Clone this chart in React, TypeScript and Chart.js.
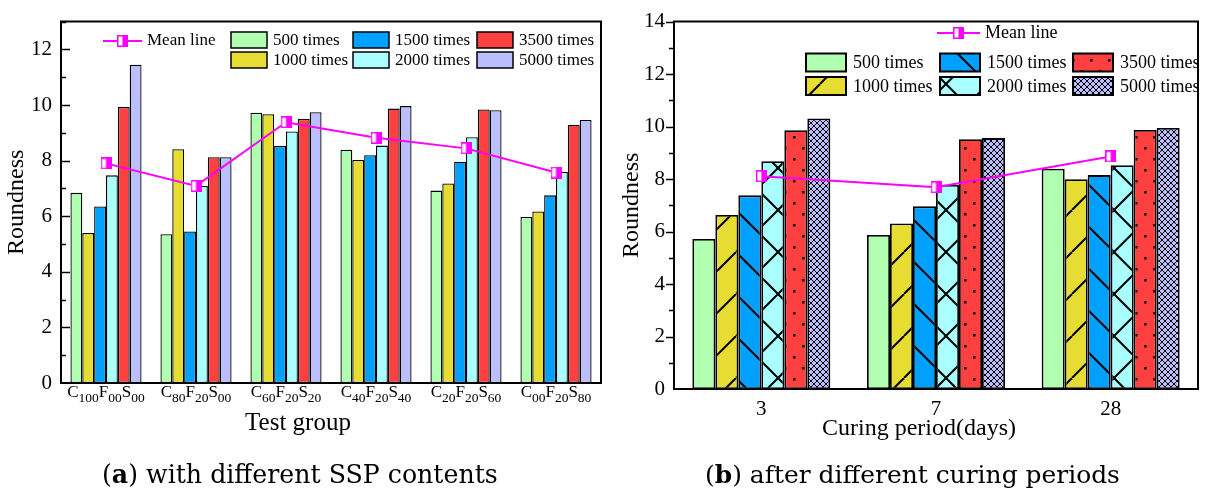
import React, { useEffect, useRef } from 'react';
import { Chart, registerables } from 'chart.js';

Chart.register(...registerables);

const FONT = '"Liberation Serif", "Times New Roman", serif';
const CAP_FONT = '"DejaVu Serif", serif';

// ---------- Panel (a): different SSP contents ----------
const groupLabelsA = ['C100F00S00', 'C80F20S00', 'C60F20S20', 'C40F20S40', 'C20F20S60', 'C00F20S80'];
const a500 = [6.84, 5.35, 9.72, 8.39, 6.92, 5.97];
const a1000 = [5.4, 8.41, 9.67, 8.02, 7.18, 6.17];
const a1500 = [6.35, 5.45, 8.53, 8.19, 7.96, 6.75];
const a2000 = [7.47, 7.09, 9.05, 8.54, 8.84, 7.59];
const a3500 = [9.93, 8.12, 9.5, 9.87, 9.84, 9.29];
const a5000 = [11.45, 8.12, 9.74, 9.96, 9.81, 9.46];
const aMean = [7.9, 7.09, 9.38, 8.82, 8.44, 7.57];

// ---------- Panel (b): different curing periods ----------
const periodLabelsB = ['3', '7', '28'];
const b500 = [5.72, 5.87, 8.39];
const b1000 = [6.63, 6.31, 7.99];
const b1500 = [7.38, 6.96, 8.15];
const b2000 = [8.68, 7.78, 8.53];
const b3500 = [9.86, 9.52, 9.87];
const b5000 = [10.31, 9.56, 9.95];
const bMean = [8.11, 7.69, 8.86];

const seriesLabels = ['500 times', '1000 times', '1500 times', '2000 times', '3500 times', '5000 times'];
const seriesColors = ['#B0FFB0', '#E6DC32', '#00A0FF', '#AAFFFF', '#FF4040', '#BBBFFF'];
const patternsB = ['none', 'fwd', 'back', 'cross', 'dots', 'fine'];
const meanLabel = 'Mean line';
const meanColor = '#FF00FF';

const xTitleA = 'Test group';
const xTitleB = 'Curing period(days)';
const yTitle = 'Roundness';
const captionA = ['(', 'a', ') with different SSP contents'];
const captionB = ['(', 'b', ') after different curing periods'];

function makeMarker(): HTMLCanvasElement {
  const c = document.createElement('canvas');
  c.width = 11;
  c.height = 12;
  const g = c.getContext('2d')!;
  g.fillStyle = '#FFFFFF';
  g.fillRect(0, 0, 11, 12);
  g.fillStyle = meanColor;
  g.fillRect(5.5, 0, 5.5, 12);
  g.strokeStyle = meanColor;
  g.lineWidth = 1.5;
  g.strokeRect(0.75, 0.75, 9.5, 10.5);
  return c;
}

function makeFill(kind: string, color: string): any {
  if (kind === 'none') return color;
  const c = document.createElement('canvas');
  let w = 42;
  let h = 42;
  if (kind === 'dots') { w = 18; h = 22; }
  if (kind === 'fine') { w = 6; h = 6; }
  c.width = w;
  c.height = h;
  const g = c.getContext('2d')!;
  g.fillStyle = color;
  g.fillRect(0, 0, w, h);
  g.strokeStyle = '#000';
  g.fillStyle = '#000';
  const diag = (dir: number, lw: number) => {
    g.lineWidth = lw;
    for (const o of [-w, 0, w]) {
      g.beginPath();
      if (dir > 0) { g.moveTo(o, h); g.lineTo(o + w, 0); } else { g.moveTo(o, 0); g.lineTo(o + w, h); }
      g.stroke();
    }
  };
  if (kind === 'fwd') diag(1, 2);
  if (kind === 'back') diag(-1, 2);
  if (kind === 'cross') { diag(1, 2); diag(-1, 2); }
  if (kind === 'dots') { g.fillRect(3, 4, 2.5, 2.5); g.fillRect(12, 15, 2.5, 2.5); }
  if (kind === 'fine') { diag(1, 1); diag(-1, 1); }
  return g.createPattern(c, 'repeat');
}

function drawCaption(ctx: CanvasRenderingContext2D, parts: string[], cx: number, baseline: number, targetW: number) {
  const base = 25;
  const fontOf = (i: number, s: number) => `${i === 1 ? 'bold ' : ''}${s}px ${CAP_FONT}`;
  let w0 = 0;
  parts.forEach((p, i) => { ctx.font = fontOf(i, base); w0 += ctx.measureText(p).width; });
  const size = (base * targetW) / w0;
  let x = cx - targetW / 2;
  ctx.textAlign = 'left';
  ctx.textBaseline = 'alphabetic';
  ctx.fillStyle = '#000';
  parts.forEach((p, i) => {
    ctx.font = fontOf(i, size);
    ctx.fillText(p, x, baseline);
    x += ctx.measureText(p).width;
  });
}

function drawSubLabel(ctx: CanvasRenderingContext2D, label: string, cx: number, baseline: number) {
  const mainF = `17px ${FONT}`;
  const subF = `13.5px ${FONT}`;
  const parts = label.match(/[A-Z]\d+/g) || [label];
  const segs: { t: string; sub: boolean }[] = [];
  parts.forEach((p) => { segs.push({ t: p[0], sub: false }); segs.push({ t: p.slice(1), sub: true }); });
  let total = 0;
  segs.forEach((s) => { ctx.font = s.sub ? subF : mainF; total += ctx.measureText(s.t).width; });
  let x = cx - total / 2;
  ctx.textAlign = 'left';
  ctx.textBaseline = 'alphabetic';
  ctx.fillStyle = '#000';
  segs.forEach((s) => {
    ctx.font = s.sub ? subF : mainF;
    ctx.fillText(s.t, x, s.sub ? baseline + 5 : baseline);
    x += ctx.measureText(s.t).width;
  });
}

type Spec = {
  id: string;
  inward: boolean;
  major: number;
  minor: number;
  subLabels: boolean;
  fills: any[];
  borderW: number;
  legendFont: number;
  meanLeg: { x1: number; x2: number; y: number; tx: number };
  boxCols: number[];
  boxRows: number[];
  boxW: number;
  boxH: number;
  textGap: number;
  xTitle: string;
  xTitleX: number;
  xTitleY: number;
  xTitleSize: number;
  yTitleX: number;
  caption: string[];
  capX: number;
  capW: number;
};

function decoPlugin(spec: Spec, marker: HTMLCanvasElement) {
  return {
    id: spec.id,
    afterDraw(chart: any) {
      const ctx: CanvasRenderingContext2D = chart.ctx;
      const { left, right, top, bottom } = chart.chartArea;
      const ys = chart.scales.y;
      const xs = chart.scales.x;
      ctx.save();
      // frame (top + right)
      ctx.strokeStyle = '#000';
      ctx.lineWidth = 2;
      ctx.lineCap = 'square';
      ctx.beginPath();
      ctx.moveTo(left, top);
      ctx.lineTo(right, top);
      ctx.lineTo(right, bottom);
      ctx.stroke();
      ctx.lineCap = 'butt';
      // y ticks (major + minor)
      ctx.lineWidth = 1.5;
      ys.ticks.forEach((t: any) => {
        if (t.value === 0) return;
        const py = Math.round(ys.getPixelForValue(t.value)) + 0.5;
        const len = t.value % 2 === 0 ? spec.major : spec.minor;
        ctx.beginPath();
        ctx.moveTo(left, py);
        ctx.lineTo(spec.inward ? left + len : left - len, py);
        ctx.stroke();
      });
      // x labels with subscripts
      if (spec.subLabels) {
        chart.data.labels.forEach((lab: string, i: number) => {
          drawSubLabel(ctx, lab, xs.getPixelForValue(i), 397);
        });
      }
      // axis titles
      ctx.fillStyle = '#000';
      ctx.font = `${spec.xTitleSize}px ${FONT}`;
      ctx.textAlign = 'center';
      ctx.textBaseline = 'alphabetic';
      ctx.fillText(spec.xTitle, spec.xTitleX, spec.xTitleY);
      ctx.save();
      ctx.translate(spec.yTitleX, (top + bottom) / 2);
      ctx.rotate(-Math.PI / 2);
      ctx.font = `24px ${FONT}`;
      ctx.textBaseline = 'middle';
      ctx.fillText(yTitle, 0, 0);
      ctx.restore();
      // legend: mean line
      const ml = spec.meanLeg;
      ctx.strokeStyle = meanColor;
      ctx.lineWidth = 2;
      ctx.beginPath();
      ctx.moveTo(ml.x1, ml.y);
      ctx.lineTo(ml.x2, ml.y);
      ctx.stroke();
      ctx.drawImage(marker, (ml.x1 + ml.x2) / 2 - marker.width / 2, ml.y - marker.height / 2);
      ctx.fillStyle = '#000';
      ctx.font = `${spec.legendFont}px ${FONT}`;
      ctx.textAlign = 'left';
      ctx.textBaseline = 'middle';
      ctx.fillText(meanLabel, ml.tx, ml.y);
      // legend: boxes
      seriesLabels.forEach((lab, i) => {
        const c = Math.floor(i / 2);
        const r = i % 2;
        const bx = spec.boxCols[c];
        const by = spec.boxRows[r];
        ctx.fillStyle = spec.fills[i];
        ctx.fillRect(bx, by, spec.boxW, spec.boxH);
        ctx.strokeStyle = '#000';
        ctx.lineWidth = spec.borderW;
        ctx.strokeRect(bx, by, spec.boxW, spec.boxH);
        ctx.fillStyle = '#000';
        ctx.font = `${spec.legendFont}px ${FONT}`;
        ctx.fillText(lab, bx + spec.boxW + spec.textGap, by + spec.boxH / 2 + 1);
      });
      // caption
      drawCaption(ctx, spec.caption, spec.capX, 482.5, spec.capW);
      ctx.restore();
    },
  };
}

function buildChart(canvas: HTMLCanvasElement, opts: {
  labels: string[];
  series: number[][];
  mean: number[];
  fills: any[];
  yMax: number;
  pad: { top: number; right: number };
  yWidth: number;
  xHeight: number;
  showXTicks: boolean;
  borderW: number;
  spec: Spec;
}) {
  const marker = makeMarker();
  const datasets: any[] = [
    {
      type: 'line',
      label: meanLabel,
      data: opts.mean,
      borderColor: meanColor,
      backgroundColor: meanColor,
      borderWidth: 2,
      pointStyle: marker,
      pointRadius: 6,
      tension: 0,
      fill: false,
      order: 0,
    },
  ];
  opts.series.forEach((vals, i) => {
    datasets.push({
      type: 'bar',
      label: seriesLabels[i],
      data: vals,
      backgroundColor: opts.fills[i],
      borderColor: '#000',
      borderWidth: opts.borderW,
      borderSkipped: false,
      barPercentage: 1,
      categoryPercentage: 0.79,
      order: 1,
    });
  });
  return new Chart(canvas, {
    type: 'bar',
    data: { labels: opts.labels, datasets },
    options: {
      animation: false,
      responsive: false,
      maintainAspectRatio: false,
      layout: { padding: { top: opts.pad.top, right: opts.pad.right, left: 0, bottom: 0 } },
      plugins: { legend: { display: false }, tooltip: { enabled: false } },
      scales: {
        x: {
          grid: { display: false, drawTicks: false },
          border: { display: true, color: '#000', width: 2 },
          ticks: {
            display: opts.showXTicks,
            color: '#000',
            padding: 8,
            font: { family: FONT, size: 21 },
          },
          afterFit: (s: any) => { s.height = opts.xHeight; },
        },
        y: {
          min: 0,
          max: opts.yMax,
          grid: { display: false, drawTicks: false },
          border: { display: true, color: '#000', width: 2 },
          ticks: {
            stepSize: 1,
            autoSkip: false,
            color: '#000',
            padding: 9,
            font: { family: FONT, size: 21 },
            callback: (v: any) => (Number(v) % 2 === 0 ? String(v) : ''),
          },
          afterFit: (s: any) => { s.width = opts.yWidth; },
        },
      },
    } as any,
    plugins: [decoPlugin(opts.spec, marker)],
  });
}

export default function App() {
  const refA = useRef<HTMLCanvasElement>(null);
  const refB = useRef<HTMLCanvasElement>(null);

  useEffect(() => {
    const fillsA = seriesColors.map((c) => makeFill('none', c));
    const fillsB = seriesColors.map((c, i) => makeFill(patternsB[i], c));
    const specA: Spec = {
      id: 'decoA',
      inward: true,
      major: 9,
      minor: 5,
      subLabels: true,
      fills: fillsA,
      borderW: 1.5,
      legendFont: 17,
      meanLeg: { x1: 103, x2: 142, y: 41, tx: 147 },
      boxCols: [231, 353, 477],
      boxRows: [32, 52],
      boxW: 36,
      boxH: 16,
      textGap: 6,
      xTitle: xTitleA,
      xTitleX: 298,
      xTitleY: 430,
      xTitleSize: 25,
      yTitleX: 17,
      caption: captionA,
      capX: 300,
      capW: 396,
    };
    const specB: Spec = {
      id: 'decoB',
      inward: false,
      major: 8,
      minor: 5,
      subLabels: false,
      fills: fillsB,
      borderW: 2,
      legendFont: 18,
      meanLeg: { x1: 327, x2: 370, y: 33, tx: 375 },
      boxCols: [196, 330, 463],
      boxRows: [53.5, 77],
      boxW: 40,
      boxH: 18,
      textGap: 7,
      xTitle: xTitleB,
      xTitleX: 309,
      xTitleY: 435,
      xTitleSize: 24,
      yTitleX: 22,
      caption: captionB,
      capX: 302.5,
      capW: 415,
    };
    const chartA = buildChart(refA.current!, {
      labels: groupLabelsA,
      series: [a500, a1000, a1500, a2000, a3500, a5000],
      mean: aMean,
      fills: fillsA,
      yMax: 13,
      pad: { top: 13, right: 9 },
      yWidth: 61,
      xHeight: 108,
      showXTicks: false,
      borderW: 1.3,
      spec: specA,
    });
    const chartB = buildChart(refB.current!, {
      labels: periodLabelsB,
      series: [b500, b1000, b1500, b2000, b3500, b5000],
      mean: bMean,
      fills: fillsB,
      yMax: 14,
      pad: { top: 19, right: 1 },
      yWidth: 64,
      xHeight: 102,
      showXTicks: true,
      borderW: 1.8,
      spec: specB,
    });
    return () => {
      chartA.destroy();
      chartB.destroy();
    };
  }, []);

  return (
    <div style={{ position: 'absolute', left: 0, top: 0, width: 1206, height: 491, background: '#fff', overflow: 'hidden' }}>
      <canvas ref={refA} width={610} height={491} style={{ position: 'absolute', left: 0, top: 0, width: 610, height: 491 }} />
      <canvas ref={refB} width={596} height={491} style={{ position: 'absolute', left: 610, top: 0, width: 596, height: 491 }} />
    </div>
  );
}
